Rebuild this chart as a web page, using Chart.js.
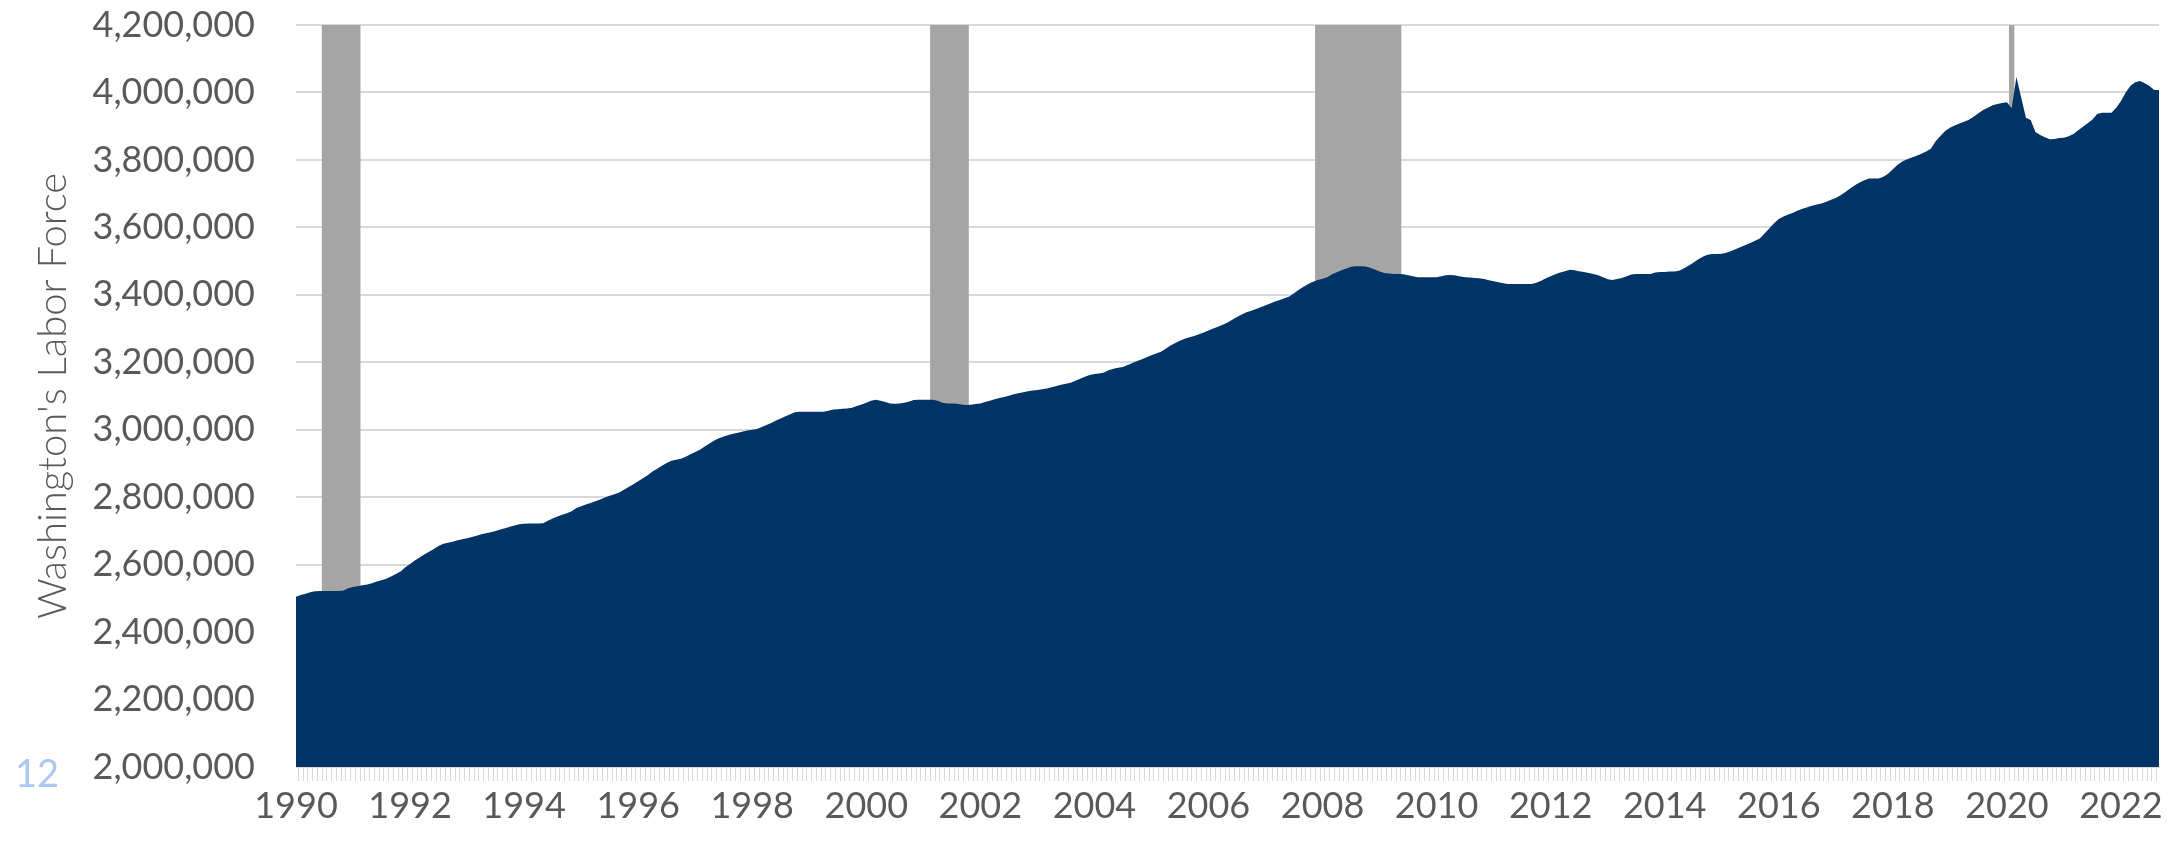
<!DOCTYPE html>
<html>
  <head>
    <title>Washington's Labor Force</title>
    <script src="https://cdn.jsdelivr.net/npm/chart.js"></script>
    <style>
      body {
        margin: 0;
        padding: 0;
        background: #ffffff;
        font-family: "Lato", "Noto Sans", sans-serif;
      }
      #wrap {
        position: relative;
        width: 2180px;
        height: 843px;
      }
      #stray {
        position: absolute;
        left: 15px;
        top: 749px;
        font-size: 38px;
        color: #a9c8f2; /* stray label in the original sheet */
      }
    </style>
  </head>
  <body>
    <div id="wrap">
      <canvas id="myChart" width="2180" height="843"></canvas>
      <div id="stray">12</div>
    </div>
    <script>
      // monthly values, Jan 1990 .. Sep 2022 (one line per year)
      const laborForce = [
        2505000, 2510000, 2514000, 2518000, 2521000, 2522000, 2522000, 2522000, 2522000, 2522000, 2523000, 2530000,
        2534000, 2536000, 2539000, 2541000, 2545000, 2550000, 2554000, 2558000, 2565000, 2572000, 2580000, 2592000,
        2602000, 2612000, 2621000, 2630000, 2638000, 2646000, 2655000, 2662000, 2665000, 2668000, 2672000, 2675000,
        2678000, 2682000, 2686000, 2690000, 2693000, 2696000, 2700000, 2704000, 2708000, 2712000, 2716000, 2720000,
        2721000, 2722000, 2722000, 2722000, 2723000, 2730000, 2737000, 2743000, 2748000, 2752000, 2758000, 2768000,
        2773000, 2778000, 2783000, 2788000, 2793000, 2799000, 2804000, 2809000, 2814000, 2822000, 2830000, 2838000,
        2847000, 2856000, 2865000, 2876000, 2884000, 2893000, 2901000, 2908000, 2911000, 2914000, 2920000, 2927000,
        2934000, 2941000, 2950000, 2959000, 2968000, 2975000, 2980000, 2984000, 2988000, 2991000, 2995000, 2998000,
        3000000, 3002000, 3008000, 3014000, 3020000, 3027000, 3033000, 3040000, 3046000, 3052000, 3053000, 3053000,
        3053000, 3053000, 3053000, 3053000, 3056000, 3060000, 3061000, 3062000, 3063000, 3065000, 3070000, 3075000,
        3080000, 3086000, 3089000, 3086000, 3082000, 3078000, 3077000, 3078000, 3080000, 3084000, 3088000, 3089000,
        3089000, 3089000, 3089000, 3086000, 3080000, 3078000, 3078000, 3077000, 3075000, 3073000, 3074000, 3076000,
        3078000, 3082000, 3086000, 3090000, 3094000, 3097000, 3101000, 3105000, 3108000, 3111000, 3114000, 3116000,
        3118000, 3120000, 3122000, 3126000, 3130000, 3133000, 3136000, 3139000, 3145000, 3151000, 3157000, 3162000,
        3165000, 3167000, 3170000, 3176000, 3181000, 3184000, 3186000, 3192000, 3198000, 3204000, 3209000, 3215000,
        3221000, 3226000, 3231000, 3240000, 3250000, 3257000, 3264000, 3270000, 3274000, 3278000, 3283000, 3288000,
        3294000, 3300000, 3305000, 3311000, 3318000, 3326000, 3334000, 3342000, 3348000, 3353000, 3358000, 3363000,
        3369000, 3374000, 3380000, 3385000, 3390000, 3395000, 3405000, 3415000, 3424000, 3432000, 3439000, 3444000,
        3448000, 3452000, 3461000, 3467000, 3473000, 3478000, 3483000, 3485000, 3485000, 3484000, 3480000, 3475000,
        3469000, 3465000, 3463000, 3462000, 3462000, 3461000, 3458000, 3455000, 3452000, 3452000, 3452000, 3452000,
        3452000, 3455000, 3458000, 3459000, 3457000, 3454000, 3452000, 3451000, 3450000, 3449000, 3447000, 3443000,
        3440000, 3437000, 3434000, 3432000, 3432000, 3432000, 3432000, 3432000, 3432000, 3436000, 3442000, 3449000,
        3455000, 3461000, 3466000, 3470000, 3474000, 3473000, 3470000, 3468000, 3465000, 3462000, 3458000, 3452000,
        3446000, 3444000, 3447000, 3450000, 3455000, 3460000, 3462000, 3462000, 3462000, 3462000, 3466000, 3468000,
        3468000, 3469000, 3469000, 3471000, 3478000, 3486000, 3495000, 3505000, 3513000, 3519000, 3521000, 3521000,
        3522000, 3525000, 3530000, 3536000, 3542000, 3548000, 3554000, 3560000, 3567000, 3582000, 3597000, 3612000,
        3625000, 3632000, 3638000, 3643000, 3650000, 3655000, 3660000, 3664000, 3668000, 3671000, 3676000, 3682000,
        3687000, 3695000, 3705000, 3715000, 3725000, 3733000, 3740000, 3745000, 3745000, 3745000, 3750000, 3759000,
        3772000, 3786000, 3795000, 3802000, 3807000, 3812000, 3818000, 3825000, 3833000, 3855000, 3871000, 3886000,
        3895000, 3902000, 3908000, 3913000, 3919000, 3928000, 3938000, 3948000, 3955000, 3962000, 3966000, 3969000,
        3971000, 3953000, 4046000, 3985000, 3925000, 3918000, 3883000, 3874000, 3867000, 3861000, 3862000, 3865000,
        3866000, 3870000, 3877000, 3888000, 3898000, 3909000, 3920000, 3936000, 3940000, 3940000, 3940000, 3955000,
        3975000, 4000000, 4020000, 4030000, 4034000, 4027000, 4019000, 4007000, 4007000,
      ];

      // shaded recession periods (first month, last month)
      const recessions = [
        ["1990-07", "1991-02"],
        ["2001-03", "2001-10"],
        ["2007-12", "2009-05"],
        ["2020-02", "2020-02"],
      ];

      const yTicks = { min: 2000000, max: 4200000, step: 200000 };
      const shadeValue = 4200000;

      // month labels "YYYY-MM"
      const months = [];
      for (let i = 0; i < laborForce.length; i++) {
        const y = 1990 + Math.floor(i / 12);
        const m = (i % 12) + 1;
        months.push(y + "-" + String(m).padStart(2, "0"));
      }

      const shade = months.map((lab) =>
        recessions.some(([a, b]) => lab >= a && lab <= b) ? shadeValue : null
      );

      const FONT = "'Lato', 'Noto Sans', sans-serif";
      const TEXT = "#595959";
      const GRID = "#d9d9d9";

      const ctx = document.getElementById("myChart").getContext("2d");
      new Chart(ctx, {
        data: {
          labels: months,
          datasets: [
            {
              type: "line",
              label: "Labor force",
              data: laborForce,
              backgroundColor: "#003366",
              borderWidth: 0,
              pointRadius: 0,
              tension: 0,
              fill: "start",
              order: 1,
            },
            {
              type: "bar",
              label: "Recession",
              data: shade,
              backgroundColor: "#a5a5a5",
              borderWidth: 0,
              barPercentage: 1,
              categoryPercentage: 1,
              order: 2,
            },
          ],
        },
        options: {
          responsive: false,
          animation: false,
          layout: { padding: { top: 25, right: 21, left: 0, bottom: 0 } },
          plugins: {
            legend: { display: false },
            tooltip: { enabled: false },
          },
          scales: {
            x: {
              type: "category",
              offset: false,
              afterFit: (s) => {
                s.height = 76;
                s.paddingLeft = 0;
                s.paddingRight = 0;
              },
              grid: {
                drawOnChartArea: false,
                drawTicks: true,
                tickLength: 14,
                color: GRID,
                lineWidth: 1,
              },
              border: { display: true, color: GRID },
              ticks: {
                autoSkip: false,
                maxRotation: 0,
                minRotation: 0,
                padding: 4,
                color: TEXT,
                font: { family: FONT, size: 36 },
                callback: function (val, idx) {
                  const lab = months[idx];
                  const yr = +lab.slice(0, 4);
                  return lab.endsWith("-01") && yr % 2 === 0 ? String(yr) : "";
                },
              },
            },
            y: {
              min: yTicks.min,
              max: yTicks.max,
              afterFit: (s) => {
                s.width = 296;
                s.paddingTop = 0;
                s.paddingBottom = 0;
              },
              grid: { color: GRID, lineWidth: 2, drawTicks: false },
              border: { display: false },
              ticks: {
                stepSize: yTicks.step,
                padding: 41,
                color: TEXT,
                font: { family: FONT, size: 36 },
                callback: (v) => v.toLocaleString("en-US"),
              },
              title: {
                display: true,
                text: "Washington's Labor Force",
                color: TEXT,
                font: { family: FONT, size: 40, weight: 300 },
                padding: { top: 29, bottom: 0 },
              },
            },
          },
        },
      });
    </script>
  </body>
</html>
